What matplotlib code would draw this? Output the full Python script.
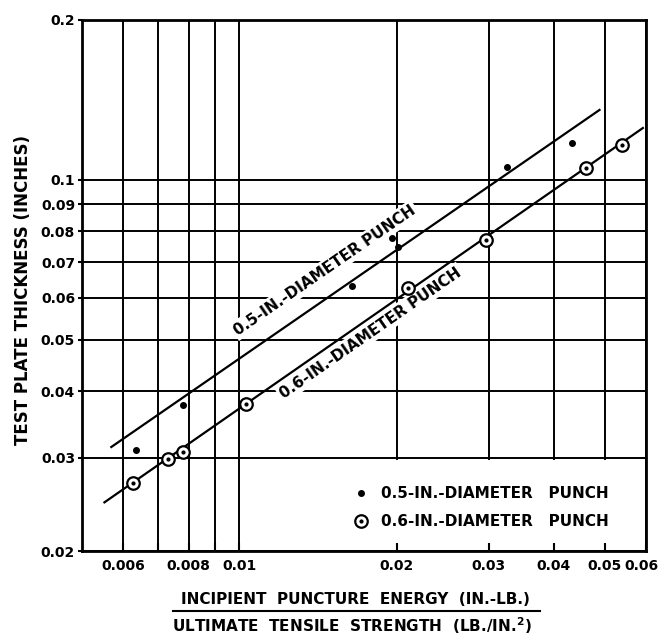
import numpy as np
import matplotlib.pyplot as plt
from matplotlib.patches import Rectangle
from matplotlib.lines import Line2D
from matplotlib.transforms import ScaledTranslation
from matplotlib.ticker import FixedLocator, FixedFormatter, NullLocator

plt.rcParams['font.family'] = 'DejaVu Sans'
plt.rcParams['font.weight'] = 'bold'

# measured points, 0.5-in. diameter punch (filled dots)
energy_05 = [0.00635, 0.0078, 0.0164, 0.0196, 0.0201, 0.0325, 0.0434]
thick_05 = [0.0310, 0.0377, 0.0630, 0.0777, 0.0748, 0.1058, 0.1174]

# measured points, 0.6-in. diameter punch (circled dots)
energy_06 = [0.00626, 0.0073, 0.0078, 0.0103, 0.0210, 0.0296, 0.0460, 0.0540]
thick_06 = [0.0269, 0.0298, 0.0307, 0.0378, 0.0626, 0.0770, 0.1053, 0.1163]

# fitted straight lines (end points)
fit_05_x = [0.00569, 0.0489]
fit_05_y = [0.0314, 0.1354]
fit_06_x = [0.00552, 0.0592]
fit_06_y = [0.0247, 0.1252]

x_ticks = [0.006, 0.007, 0.008, 0.009, 0.01, 0.02, 0.03, 0.04, 0.05, 0.06]
x_labels = ['0.006', '', '0.008', '', '0.01', '0.02', '0.03', '0.04', '0.05', '0.06']
y_ticks = [0.02, 0.03, 0.04, 0.05, 0.06, 0.07, 0.08, 0.09, 0.1, 0.2]
y_labels = ['0.02', '0.03', '0.04', '0.05', '0.06', '0.07', '0.08', '0.09', '0.1', '0.2']

fig = plt.figure(figsize=(6.6, 6.36), dpi=100)
ax = fig.add_axes([0.1242, 0.1336, 0.8545, 0.835])
ax.set_xscale('log')
ax.set_yscale('log')
ax.set_xlim(0.005, 0.06)
ax.set_ylim(0.02, 0.2)

# grid drawn by hand so the legend box can blank part of it
for xv in x_ticks:
    ax.axvline(xv, color='black', lw=1.4, zorder=1)
for yv in y_ticks:
    ax.axhline(yv, color='black', lw=1.4, zorder=1)
ax.add_patch(Rectangle((0.355, 0.003), 0.64, 0.168, transform=ax.transAxes,
                       facecolor='white', edgecolor='none', zorder=1.5))

ax.xaxis.set_major_locator(FixedLocator(x_ticks))
ax.xaxis.set_major_formatter(FixedFormatter(x_labels))
ax.xaxis.set_minor_locator(NullLocator())
ax.yaxis.set_major_locator(FixedLocator(y_ticks))
ax.yaxis.set_major_formatter(FixedFormatter(y_labels))
ax.yaxis.set_minor_locator(NullLocator())
ax.set_axisbelow(False)
ax.tick_params(axis='x', direction='in', length=6, width=1.5, pad=6, labelsize=10)
ax.tick_params(axis='y', direction='out', length=3, width=1.5, pad=2, labelsize=10)
for s in ax.spines.values():
    s.set_linewidth(2)
# pull the last x label (at the right edge) a little inward
last = ax.xaxis.get_major_ticks()[-1].label1
last.set_transform(last.get_transform() + ScaledTranslation(-5 / 100, 0, fig.dpi_scale_trans))

ax.plot(fit_05_x, fit_05_y, color='black', lw=1.6, zorder=3)
ax.plot(fit_06_x, fit_06_y, color='black', lw=1.6, zorder=3)
p05, = ax.plot(energy_05, thick_05, 'o', color='black', ms=4, zorder=4, ls='none')
c06, = ax.plot(energy_06, thick_06, 'o', mfc='white', mec='black', mew=1.6,
               ms=9, zorder=4, ls='none')
d06, = ax.plot(energy_06, thick_06, 'o', color='black', ms=2, zorder=5, ls='none')

# labels along the fitted lines
def line_angle(xs, ys):
    p = ax.transData.transform(np.column_stack([xs, ys]))
    return np.degrees(np.arctan2(p[1, 1] - p[0, 1], p[1, 0] - p[0, 0]))

ax.text(0.01457, 0.0676, '0.5-IN.-DIAMETER PUNCH', rotation=line_angle(fit_05_x, fit_05_y),
        rotation_mode='anchor', ha='center', va='center', fontsize=11, zorder=2,
        bbox=dict(facecolor='white', edgecolor='none', pad=1.5))
ax.text(0.01781, 0.0515, '0.6-IN.-DIAMETER PUNCH', rotation=line_angle(fit_06_x, fit_06_y),
        rotation_mode='anchor', ha='center', va='center', fontsize=11, zorder=2,
        bbox=dict(facecolor='white', edgecolor='none', pad=1.5))

ax.legend([p05, (c06, d06)], ['0.5-IN.-DIAMETER   PUNCH', '0.6-IN.-DIAMETER   PUNCH'],
          loc='upper left', bbox_to_anchor=(0.455, 0.148), frameon=False,
          fontsize=11, handletextpad=0.7, labelspacing=0.85, handlelength=1.2)

fig.text(0.035, 0.544, 'TEST PLATE THICKNESS (INCHES)', rotation=90,
         ha='center', va='center', fontsize=12)
fig.text(0.539, 0.058, 'INCIPIENT  PUNCTURE  ENERGY  (IN.-LB.)',
         ha='center', va='center', fontsize=11)
fig.add_artist(Line2D([0.262, 0.818], [0.0393, 0.0393], transform=fig.transFigure,
                      color='black', lw=1.5))
fig.text(0.533, 0.0157, r'ULTIMATE  TENSILE  STRENGTH  (LB./IN.$^\mathbf{2}$)',
         ha='center', va='center', fontsize=11)

fig.savefig('out.png', dpi=100)
